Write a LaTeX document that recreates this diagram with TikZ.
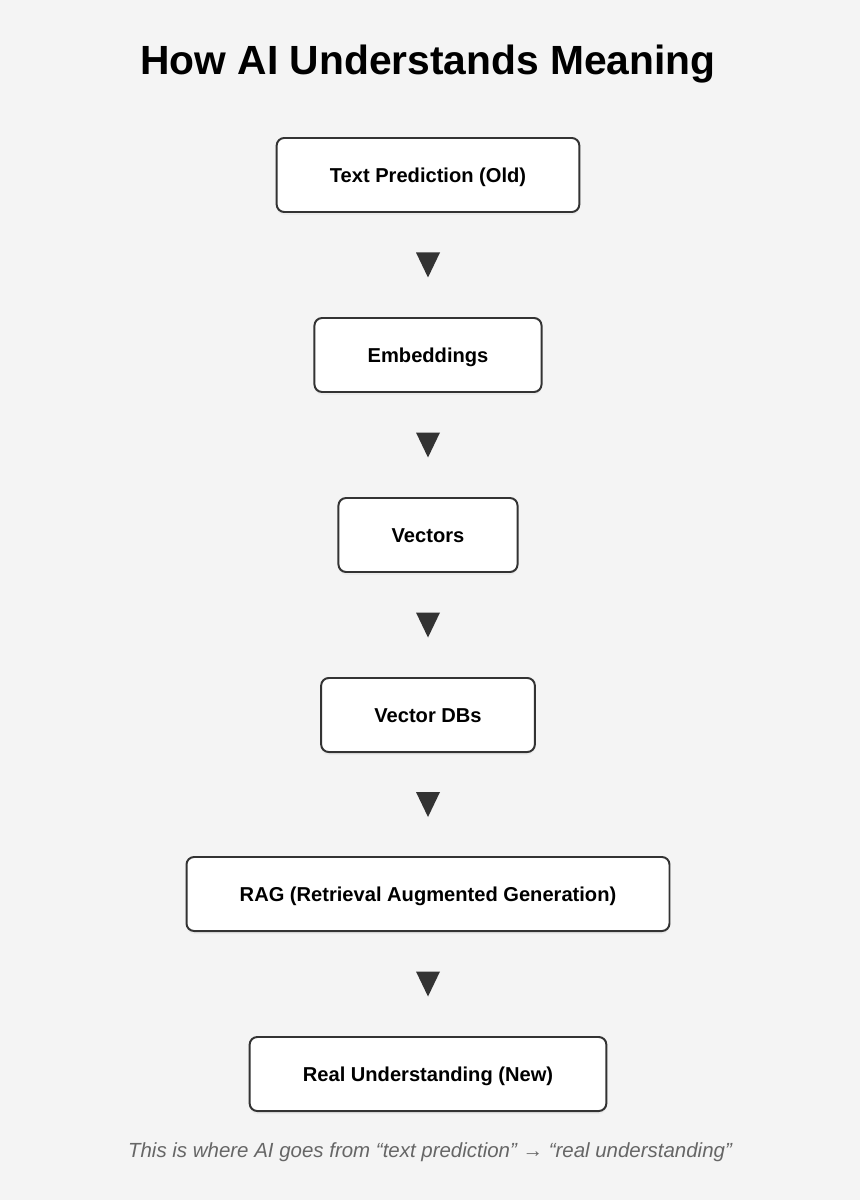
\documentclass[tikz,border=0pt]{standalone}
\usepackage{fontspec}
\setmainfont{Liberation Sans}
\usepackage{tikz}
\usetikzlibrary{calc,shadows}
\definecolor{pagebg}{HTML}{F4F4F4}
\definecolor{boxline}{HTML}{333333}
\definecolor{notegray}{HTML}{666666}

\begin{document}
\begin{tikzpicture}[x=0.025cm,y=-0.025cm,
  every node/.style={font=\fontsize{14.3pt}{17pt}\selectfont\bfseries},
  stagebox/.style={draw=boxline,line width=1.4pt,fill=white,rounded corners=0.19cm,
    minimum height=1.85cm,inner xsep=1.33cm,text height=10.2pt,text depth=0pt,
    drop shadow={shadow xshift=0cm,shadow yshift=-0.07cm,opacity=0.08}},
  downtip/.style={fill=boxline}]
\fill[pagebg] (0,0) rectangle (860,1200);
\node[anchor=base,font=\fontsize{29pt}{34pt}\selectfont\bfseries] (title) at (428,75) {How AI Understands Meaning};
\node[stagebox] (t1) at (428,175) {Text Prediction (Old)};
\node[stagebox] (t2) at (428,355) {Embeddings};
\node[stagebox] (t3) at (428,535) {Vectors};
\node[stagebox] (t4) at (428,715) {Vector DBs};
\node[stagebox] (t5) at (428,894) {RAG (Retrieval Augmented Generation)};
\node[stagebox] (t6) at (428,1074) {Real Understanding (New)};
\coordinate (a1) at ($(t1.south)!0.5!(t2.north)$);
\coordinate (a2) at ($(t2.south)!0.5!(t3.north)$);
\coordinate (a3) at ($(t3.south)!0.5!(t4.north)$);
\coordinate (a4) at ($(t4.south)!0.5!(t5.north)$);
\coordinate (a5) at ($(t5.south)!0.5!(t6.north)$);
\fill[downtip] ($(a1)+(-12,-12.5)$) -- ($(a1)+(12,-12.5)$) -- ($(a1)+(0,12.5)$) -- cycle;
\fill[downtip] ($(a2)+(-12,-12.5)$) -- ($(a2)+(12,-12.5)$) -- ($(a2)+(0,12.5)$) -- cycle;
\fill[downtip] ($(a3)+(-12,-12.5)$) -- ($(a3)+(12,-12.5)$) -- ($(a3)+(0,12.5)$) -- cycle;
\fill[downtip] ($(a4)+(-12,-12.5)$) -- ($(a4)+(12,-12.5)$) -- ($(a4)+(0,12.5)$) -- cycle;
\fill[downtip] ($(a5)+(-12,-12.5)$) -- ($(a5)+(12,-12.5)$) -- ($(a5)+(0,12.5)$) -- cycle;
\node[anchor=base,font=\fontsize{14.55pt}{17pt}\selectfont\itshape,text=notegray] (note) at (430,1157) {This is where AI goes from “text prediction” → “real understanding”};
\end{tikzpicture}
\end{document}
